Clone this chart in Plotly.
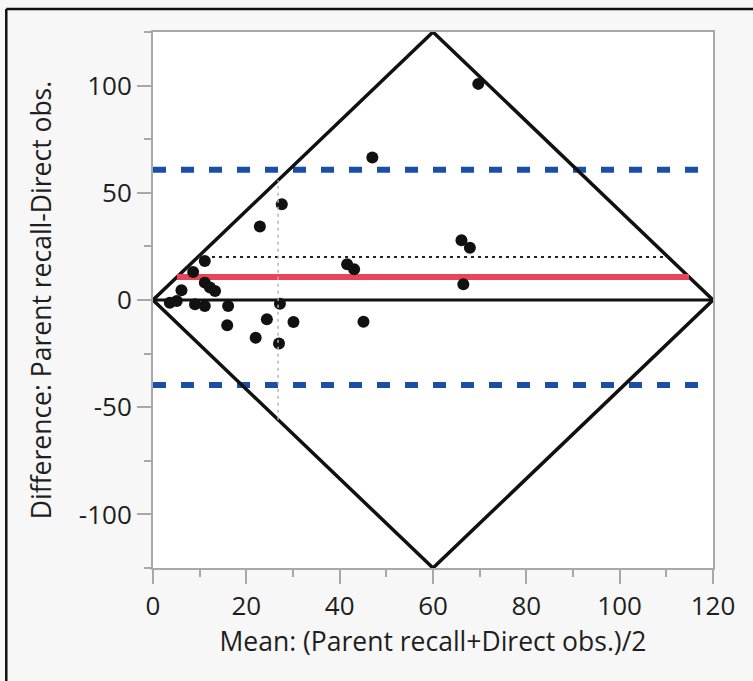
import plotly.graph_objects as go

# Bland-Altman style comparison: Parent recall vs Direct observation
mean_vals = [27.6, 22.9, 11.1, 8.6, 6.1, 11.1, 12.2, 13.3, 3.6, 5.1, 9.0, 11.1,
             16.1, 27.2, 24.4, 30.1, 15.9, 22.0, 27.0, 47.0, 66.1, 67.9, 41.6,
             43.1, 66.5, 45.1, 69.7]
diff_vals = [44.7, 34.3, 18.2, 13.1, 4.5, 8.1, 5.8, 4.2, -1.3, -0.5, -2.0, -2.8,
             -2.8, -1.7, -9.0, -10.3, -11.8, -17.6, -20.3, 66.5, 27.9, 24.4, 16.7,
             14.3, 7.3, -10.1, 100.8]

# summary statistics shown as reference lines
mean_diff = 10.7
upper_loa = 60.7
lower_loa = -39.7
ci_upper = 20.1
mean_of_means = 26.8

# axis ticks (labels use a plain hyphen for negatives)
x_ticks = [0, 20, 40, 60, 80, 100, 120]
y_ticks = [-100, -50, 0, 50, 100]
y_tick_text = ["-100", "-50", "0", "50", "100"]

# bounding diamond of attainable (mean, difference) pairs
x_max = 120
half_height = 125
diamond_x = [0, x_max / 2, x_max, x_max / 2, 0]
diamond_y = [0, half_height, 0, -half_height, 0]

slope = half_height / (x_max / 2)


def diamond_span(y):
    """x extent of the diamond at height y."""
    lo = abs(y) / slope
    return [lo, x_max - lo]


fig = go.Figure()

# limits of agreement
for lim in (upper_loa, lower_loa):
    fig.add_trace(go.Scatter(x=[0, x_max], y=[lim, lim], mode="lines",
                             line=dict(color="#1a4fa6", width=6, dash="13px,15px"),
                             hoverinfo="skip", showlegend=False))

# zero difference line
fig.add_trace(go.Scatter(x=[0, x_max], y=[0, 0], mode="lines",
                         line=dict(color="#111111", width=3),
                         hoverinfo="skip", showlegend=False))

# diamond
fig.add_trace(go.Scatter(x=diamond_x, y=diamond_y, mode="lines",
                         line=dict(color="#111111", width=3.5),
                         hoverinfo="skip", showlegend=False))

# upper confidence bound of the mean difference
fig.add_trace(go.Scatter(x=diamond_span(ci_upper), y=[ci_upper, ci_upper], mode="lines",
                         line=dict(color="#222222", width=2, dash="3px,4px"),
                         hoverinfo="skip", showlegend=False))

# mean difference
fig.add_trace(go.Scatter(x=diamond_span(mean_diff), y=[mean_diff, mean_diff], mode="lines",
                         line=dict(color="#e8455a", width=6),
                         hoverinfo="skip", showlegend=False))

# observations
fig.add_trace(go.Scatter(x=mean_vals, y=diff_vals, mode="markers",
                         marker=dict(color="#111111", size=12),
                         showlegend=False))

# mean of the means, drawn between the diamond edges
v_half = mean_of_means * slope
fig.add_trace(go.Scatter(x=[mean_of_means, mean_of_means], y=[-v_half, v_half], mode="lines",
                         line=dict(color="#b4b4b4", width=1.5, dash="3px,4px"),
                         hoverinfo="skip", showlegend=False))

axis_font = dict(family="Open Sans", size=26, color="#1e1e1e")
title_font = dict(family="Open Sans", size=26.5, color="#1e1e1e")

fig.update_xaxes(range=[0, x_max], tickmode="array", tickvals=x_ticks,
                 ticks="outside", ticklen=14, tickwidth=2, tickcolor="#a8a8a8",
                 minor=dict(dtick=10, tick0=0, ticks="outside", ticklen=7, tickwidth=2, tickcolor="#a8a8a8"),
                 showline=True, linecolor="#a8a8a8", linewidth=2, mirror=True,
                 showgrid=False, zeroline=False, tickfont=axis_font,
                 title=dict(text="Mean: (Parent recall+Direct obs.)/2", font=title_font, standoff=8))
fig.update_yaxes(range=[-half_height, half_height], tickmode="array", tickvals=y_ticks,
                 ticktext=y_tick_text,
                 ticks="outside", ticklen=14, tickwidth=2, tickcolor="#a8a8a8",
                 minor=dict(dtick=25, tick0=0, ticks="outside", ticklen=7, tickwidth=2, tickcolor="#a8a8a8"),
                 showline=True, linecolor="#a8a8a8", linewidth=2, mirror=True,
                 showgrid=False, zeroline=False, tickfont=axis_font,
                 title=dict(text="Difference: Parent recall-Direct obs.", font=title_font, standoff=20))

# window frame around the report panel
fig.add_shape(type="line", xref="paper", yref="paper", x0=-0.262, x1=1.08, y0=1.043, y1=1.043,
              line=dict(color="#111111", width=2.5))
fig.add_shape(type="line", xref="paper", yref="paper", x0=-0.262, x1=-0.262, y0=1.043, y1=-0.25,
              line=dict(color="#111111", width=2.5))

fig.update_layout(width=753, height=681,
                  margin=dict(l=153, r=40, t=32, b=113),
                  paper_bgcolor="#f7f7f7", plot_bgcolor="#ffffff",
                  showlegend=False)

fig.write_html("out.html")
